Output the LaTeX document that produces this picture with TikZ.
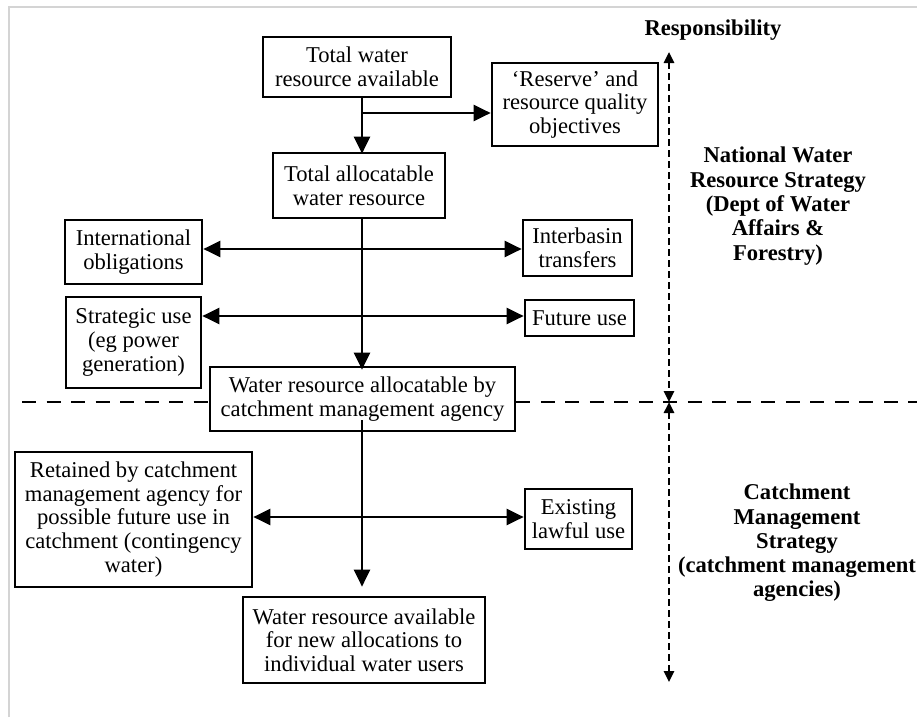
\documentclass[tikz,border=0pt]{standalone}
\usepackage{fontspec}
\setmainfont{Liberation Serif}
\usetikzlibrary{arrows.meta}
\begin{document}
\begin{tikzpicture}[x=1pt,y=-1pt,
  box/.style={draw, line width=2.7pt, inner sep=0pt, align=center,
    font=\fontsize{22.6}{23.6}\selectfont},
  lbl/.style={inner sep=0pt, align=center, font=\bfseries\fontsize{22.6}{24.3}\selectfont},
  arr/.style={line width=2.3pt, -{Triangle[length=17pt,width=16pt]}},
  dbl/.style={line width=2.3pt, {Triangle[length=17pt,width=16pt]}-{Triangle[length=17pt,width=16pt]}},
  hdash/.style={line width=2.7pt, dash pattern=on 14pt off 10.5pt},
  vdash/.style={line width=2.5pt, dash pattern=on 7pt off 4pt,
    {Triangle[length=11pt,width=10pt]}-{Triangle[length=11pt,width=10pt]}},
  frame/.style={draw=black!17, line width=2pt}]
\useasboundingbox (0,0) rectangle (917,717);
\fill[white] (0,0) rectangle (917,717);
\draw[frame] (9,717) -- (9,7) -- (917,7);

% boxes
\node[box, minimum width=188pt, minimum height=60pt] (b1) at (357,67) {Total water\\resource available};
\node[box, minimum width=166pt, minimum height=83pt] (res) at (575,104.5) {‘Reserve’ and\\resource quality\\objectives};
\node[box, minimum width=172pt, minimum height=65pt] (b2) at (359,185.5) {Total allocatable\\water resource};
\node[box, minimum width=137pt, minimum height=64pt] (intl) at (133.5,252) {International\\obligations};
\node[box, minimum width=109pt, minimum height=56pt] (inter) at (577.5,248) {Interbasin\\transfers};
\node[box, minimum width=135pt, minimum height=91pt] (strat) at (133.5,342.5) {Strategic use\\(eg power\\generation)};
\node[box, minimum width=109pt, minimum height=36pt] (fut) at (579.5,318) {Future use};
\node[box, minimum width=305pt, minimum height=64pt] (b4) at (362.5,399) {Water resource allocatable by\\catchment management agency};
\node[box, minimum width=237pt, minimum height=135pt] (ret) at (133.5,519.5) {Retained by catchment\\management agency for\\possible future use in\\catchment (contingency\\water)};
\node[box, minimum width=107pt, minimum height=60pt] (exist) at (578.5,519) {Existing\\lawful use};
\node[box, minimum width=242pt, minimum height=86pt] (b5) at (364,640) {Water resource available\\for new allocations to\\individual water users};

% labels
\node[lbl] (resp) at (713,30) {Responsibility};
\node[lbl] (nat) at (778,206) {National Water\\Resource Strategy\\(Dept of Water\\Affairs \&\\Forestry)};
\node[lbl] (cms) at (797,543) {Catchment\\Management\\Strategy\\(catchment management\\agencies)};

% trunk coordinates
\coordinate (tx) at (362,0);
\coordinate (j1) at (362,113);
\coordinate (r1) at (362,249);
\coordinate (r2) at (362,316);
\coordinate (r3) at (362,517);
\coordinate (s4) at (362,420);

% connectors
\draw[arr] (b1.south -| tx) -- ([yshift=-2pt]b2.north -| tx);
\draw[arr] (j1) -- (j1 -| res.west);
\draw[arr] (b2.south -| tx) -- ([yshift=-4pt]b4.north -| tx);
\draw[dbl] (r1 -| intl.east) -- (r1 -| inter.west);
\draw[dbl] (r2 -| strat.east) -- (r2 -| fut.west);
\draw[arr] (s4) -- ([yshift=9pt]b5.north -| tx);
\draw[dbl] (r3 -| ret.east) -- (r3 -| exist.west);

% dashed division
\coordinate (dl) at (22,402);
\coordinate (dr) at (917,402);
\draw[hdash] (dl) -- (dl -| b4.west);
\draw[hdash] (dr -| b4.east) -- (dr);

\coordinate (vt) at (669,52);
\coordinate (vm) at (669,402);
\coordinate (vb) at (669,682);
\draw[vdash] (vt) -- (vm);
\draw[vdash] (vm) -- (vb);
\end{tikzpicture}
\end{document}
